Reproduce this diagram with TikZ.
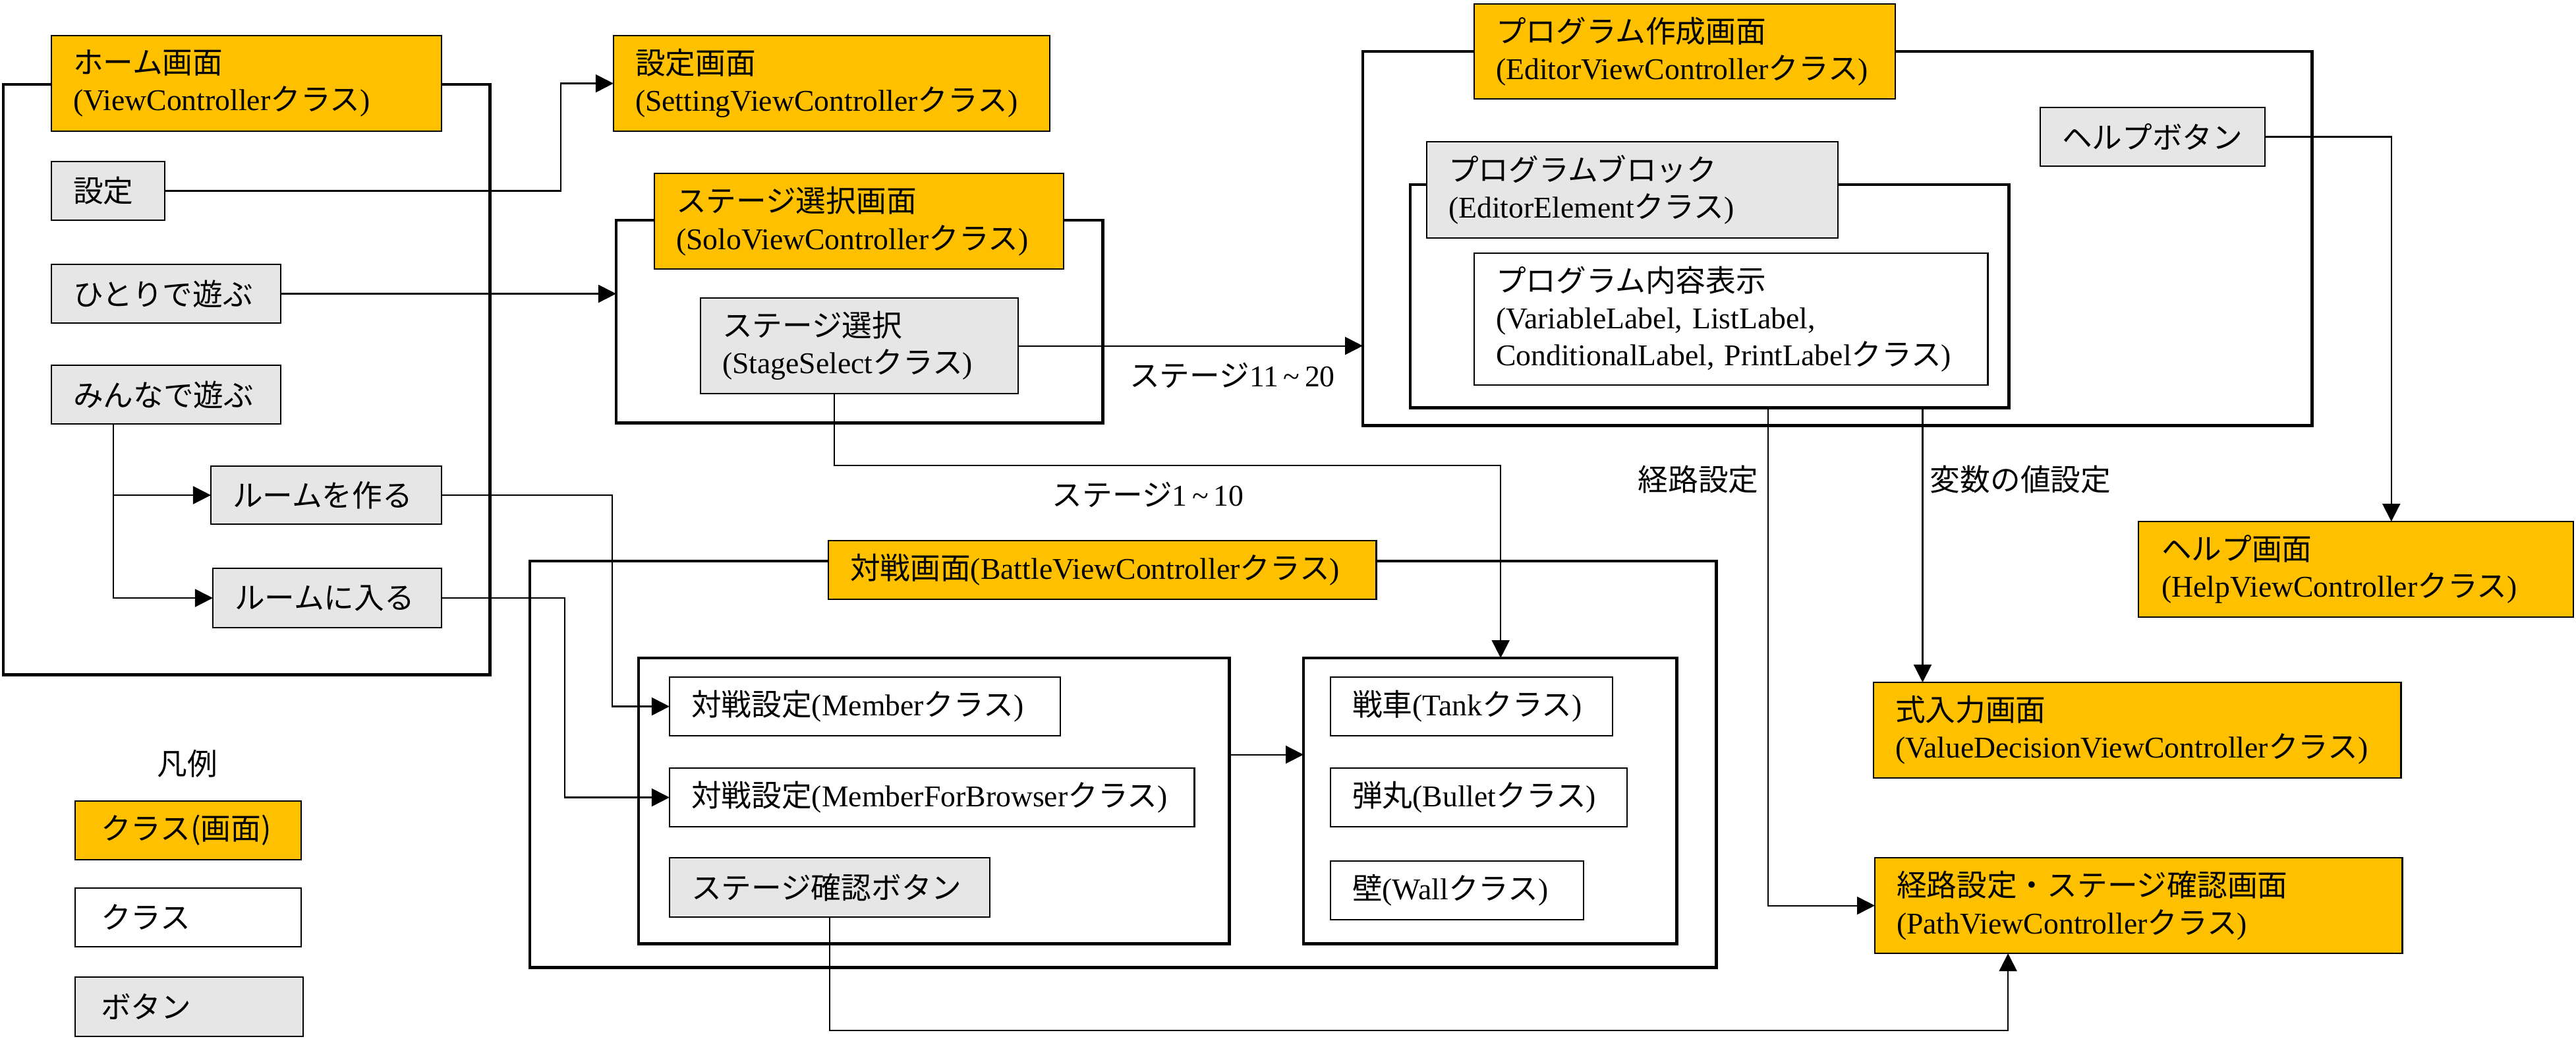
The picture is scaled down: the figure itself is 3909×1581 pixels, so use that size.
\documentclass[tikz,border=0pt]{standalone}
\usepackage{fontspec}
\setmainfont{Liberation Serif}
\newfontfamily\jp{Noto Sans CJK JP}
\usetikzlibrary{arrows.meta,calc}
\definecolor{scrorange}{HTML}{FFC000}
\definecolor{btngray}{HTML}{E6E6E6}
\newcommand\jj[1]{{\jp #1}}
\newcommand\mybox[8]{%
 \pgfmathsetmacro\bxw{(#5-#3-2*#7)/100}%
 \pgfmathsetmacro\bxh{(#6-#4)/100}%
 \pgfmathsetmacro\bxp{#7/100}%
 \node[#2,anchor=north west,text width=\bxw cm,inner xsep=\bxp cm,inner ysep=0pt,minimum height=\bxh cm,align=left,outer sep=0pt] (#1) at (#3,#4) {#8};}
\tikzset{
 every node/.style={font=\fontsize{13}{16}\selectfont},
 ybox/.style={draw, line width=0.6pt, fill=scrorange},
 wbox/.style={draw, line width=0.6pt, fill=white},
 gbox/.style={draw, line width=0.6pt, fill=btngray},
 bigframe/.style={draw, line width=1.4pt},
 arr/.style={-{Triangle[length=0.27cm,width=0.27cm]}, line width=0.6pt},
 lbl/.style={inner sep=0pt}
}
\begin{document}
\begin{tikzpicture}[x=0.01cm,y=-0.01cm]
\useasboundingbox (0,0) rectangle (3909,1581);
% frames
\mybox{homeframe}{bigframe}{5}{128}{743}{1023}{0}{}
\mybox{stageframe}{bigframe}{935}{334}{1673}{641}{0}{}
\mybox{editorframe}{bigframe}{2068}{78}{3508}{645}{0}{}
\mybox{pbframe}{bigframe}{2140}{280}{3048}{618}{0}{}
\mybox{battleframe}{bigframe}{804}{851}{2603}{1467}{0}{}
\mybox{lframe}{bigframe}{969}{998}{1865}{1431}{0}{}
\mybox{rframe}{bigframe}{1978}{998}{2544}{1431}{0}{}
% home
\mybox{hometitle}{ybox}{78}{54}{670}{199}{33}{\jj{ホーム画面}\\(ViewController\jj{クラス})}
\mybox{settei}{gbox}{78}{245}{250}{334}{33}{\jj{設定}}
\mybox{hitori}{gbox}{78}{401}{426}{490}{33}{\jj{ひとりで遊ぶ}}
\mybox{minna}{gbox}{78}{554}{426}{643}{33}{\jj{みんなで遊ぶ}}
\mybox{make}{gbox}{320}{707}{670}{795}{33}{\jj{ルームを作る}}
\mybox{join}{gbox}{323}{862}{670}{952}{33}{\jj{ルームに入る}}
% setting and stage
\mybox{setting}{ybox}{931}{54}{1593}{199}{33}{\jj{設定画面}\\(SettingViewController\jj{クラス})}
\mybox{stagetitle}{ybox}{993}{263}{1614}{408}{33}{\jj{ステージ選択画面}\\(SoloViewController\jj{クラス})}
\mybox{ss}{gbox}{1063}{452}{1545}{597}{33}{\jj{ステージ選択}\\(StageSelect\jj{クラス})}
% editor
\mybox{editortitle}{ybox}{2237}{6}{2876}{150}{33}{\jj{プログラム作成画面}\\(EditorViewController\jj{クラス})}
\mybox{helpbtn}{gbox}{3096}{163}{3437}{252}{33}{\jj{ヘルプボタン}}
\mybox{pbtitle}{gbox}{2165}{215}{2789}{361}{33}{\jj{プログラムブロック}\\(EditorElement\jj{クラス})}
\mybox{content}{wbox}{2237}{384}{3016}{584}{33}{\jj{プログラム内容表示}\\(VariableLabel, ListLabel,\\ConditionalLabel, PrintLabel\jj{クラス})}
% battle
\mybox{battletitle}{ybox}{1257}{820}{2088}{909}{33}{\jj{対戦画面}(BattleViewController\jj{クラス})}
\mybox{member}{wbox}{1016}{1027}{1609}{1116}{33}{\jj{対戦設定}(Member\jj{クラス})}
\mybox{mfb}{wbox}{1016}{1165}{1812}{1254}{33}{\jj{対戦設定}(MemberForBrowser\jj{クラス})}
\mybox{confirm}{gbox}{1016}{1301}{1502}{1391}{33}{\jj{ステージ確認ボタン}}
\mybox{tank}{wbox}{2019}{1027}{2447}{1116}{33}{\jj{戦車}(Tank\jj{クラス})}
\mybox{bullet}{wbox}{2019}{1165}{2469}{1254}{33}{\jj{弾丸}(Bullet\jj{クラス})}
\mybox{wall}{wbox}{2019}{1306}{2403}{1395}{33}{\jj{壁}(Wall\jj{クラス})}
% right screens
\mybox{helpscr}{ybox}{3245}{791}{3905}{936}{35}{\jj{ヘルプ画面}\\(HelpViewController\jj{クラス})}
\mybox{value}{ybox}{2843}{1035}{3643}{1180}{33}{\jj{式入力画面}\\(ValueDecisionViewController\jj{クラス})}
\mybox{path}{ybox}{2845}{1301}{3645}{1446}{33}{\jj{経路設定・ステージ確認画面}\\(PathViewController\jj{クラス})}
% legend
\node[lbl] (legtitle) at (284,1158) {\jj{凡例}};
\mybox{leg1}{ybox}{114}{1215}{457}{1304}{39}{\jj{クラス(画面)}}
\mybox{leg2}{wbox}{114}{1347}{457}{1436}{39}{\jj{クラス}}
\mybox{leg3}{gbox}{114}{1482}{460}{1572}{39}{\jj{ボタン}}
% labels
\node[lbl] (lab1120) at (1870,569) {\jj{ステージ}11\,\textasciitilde\,20};
\node[lbl] (lab110) at (1742,750) {\jj{ステージ}1\,\textasciitilde\,10};
\node[lbl] (labkeiro) at (2577,727) {\jj{経路設定}};
\node[lbl] (labhensu) at (3066,727) {\jj{変数の値設定}};
% connectors
\draw[arr] (settei.east) -| ($(setting.west)+(-80,0)$) -- (setting.west);
\draw[arr] (hitori.east) -- (hitori.east -| stageframe.west);
\draw[arr] ([xshift=-0.8cm]minna.south) |- (make.west);
\draw[arr] ([xshift=-0.8cm]minna.south) |- (join.west);
\draw[arr] (make.east) -| ($(member.west)+(-87,0)$) -- (member.west);
\draw[arr] (join.east) -| ($(mfb.west)+(-159,0)$) -- (mfb.west);
\draw[arr] (ss.east) -- (ss.east -| editorframe.west);
\draw[arr] ([xshift=-0.38cm]ss.south) -- ++(0,109) -| ([xshift=0.16cm]rframe.north);
\draw[arr] ([yshift=0.7cm]lframe.east) -- ([yshift=0.7cm]rframe.west);
\draw[arr] (confirm.south) -- ++(0,172) -| ([xshift=-1.98cm]path.south);
\draw[arr] ([xshift=0.89cm]pbframe.south) |- (path.west);
\draw[arr] ([xshift=3.23cm]pbframe.south) -- ([xshift=3.23cm]pbframe.south |- value.north);
\draw[arr] (helpbtn.east) -| ([xshift=0.535cm]helpscr.north);
\end{tikzpicture}
\end{document}
